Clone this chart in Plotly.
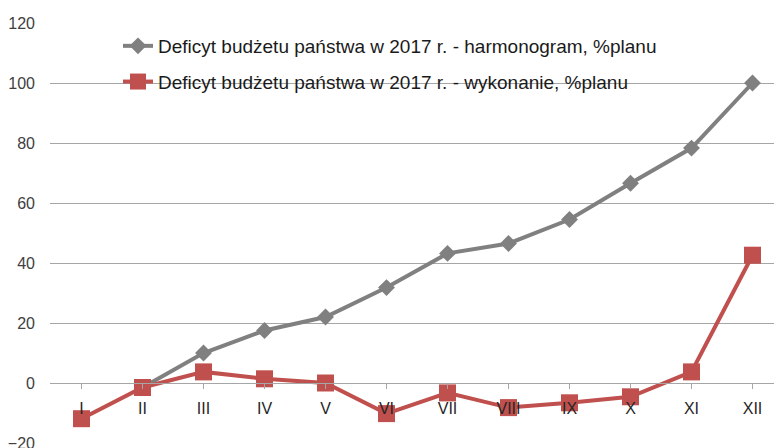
import plotly.graph_objects as go

months = ["I", "II", "III", "IV", "V", "VI", "VII", "VIII", "IX", "X", "XI", "XII"]
harmonogram = [None, -1.5, 10.0, 17.5, 22.0, 31.8, 43.2, 46.5, 54.5, 66.6, 78.3, 100.0]
wykonanie = [-11.9, -1.5, 3.7, 1.4, 0.0, -10.2, -3.3, -8.2, -6.6, -4.6, 3.7, 42.6]
name_h = "Deficyt budżetu państwa w 2017 r. - harmonogram, %planu"
name_w = "Deficyt budżetu państwa w 2017 r. - wykonanie, %planu"
y_ticks = [-20, 0, 20, 40, 60, 80, 100, 120]

FONT = "Liberation Sans, Arial, sans-serif"
GRAY = "#808080"
RED = "#c0504d"
GRID = "#a6a6a6"

x_idx = list(range(len(months)))

fig = go.Figure()
fig.add_trace(go.Scatter(
    x=x_idx, y=harmonogram, name=name_h, mode="lines+markers",
    line=dict(color=GRAY, width=4),
    marker=dict(symbol="diamond", size=13, color=GRAY),
    legendgroup="h", connectgaps=False,
))
fig.add_trace(go.Scatter(
    x=x_idx, y=wykonanie, name=name_w, mode="lines+markers",
    line=dict(color=RED, width=4),
    marker=dict(symbol="square", size=17, color=RED),
    legendgroup="w",
))

W, H = 774, 448
ml, mr, mt, mb = 50, 0, 23, 5
band = 61.0
x0 = -0.5 - 1.0 / band
x1 = x0 + (W - ml - mr) / band
ymin, ymax = -20, 120
zero_pos = (0 - ymin) / (ymax - ymin)
ph = H - mt - mb

fig.update_layout(
    width=W, height=H,
    margin=dict(l=ml, r=mr, t=mt, b=mb, autoexpand=False),
    plot_bgcolor="white", paper_bgcolor="white",
    font=dict(family=FONT, size=16, color="#333333"),
    showlegend=True,
    legend=dict(
        x=(118 - ml) / (W - ml - mr), y=(H - mb - 27) / ph,
        xanchor="left", yanchor="top",
        bgcolor="rgba(0,0,0,0)",
        font=dict(family=FONT, size=19, color="#1a1a1a"),
        traceorder="grouped", tracegroupgap=8,
    ),
    xaxis=dict(
        range=[x0, x1], automargin=False,
        tickmode="array", tickvals=x_idx, ticktext=months,
        anchor="free", position=zero_pos,
        showline=True, linecolor=GRID, linewidth=1,
        ticks="outside", tickson="boundaries", ticklen=5, tickcolor=GRID,
        showgrid=False, zeroline=False,
        tickfont=dict(family=FONT, size=16, color="#262626"),
        ticklabelstandoff=6,
    ),
    yaxis=dict(
        range=[ymin, ymax], automargin=False,
        tickmode="array", tickvals=y_ticks,
        showgrid=True, gridcolor=GRID, gridwidth=1,
        zeroline=False, showline=False, ticks="",
        tickfont=dict(family=FONT, size=16, color="#404040"),
        ticklabelstandoff=14, ticklabeloverflow="allow",
    ),
)

fig.write_html(
    "out.html",
    config={"displayModeBar": False},
    post_script="document.body.style.margin='0';document.body.style.overflow='hidden';",
)
